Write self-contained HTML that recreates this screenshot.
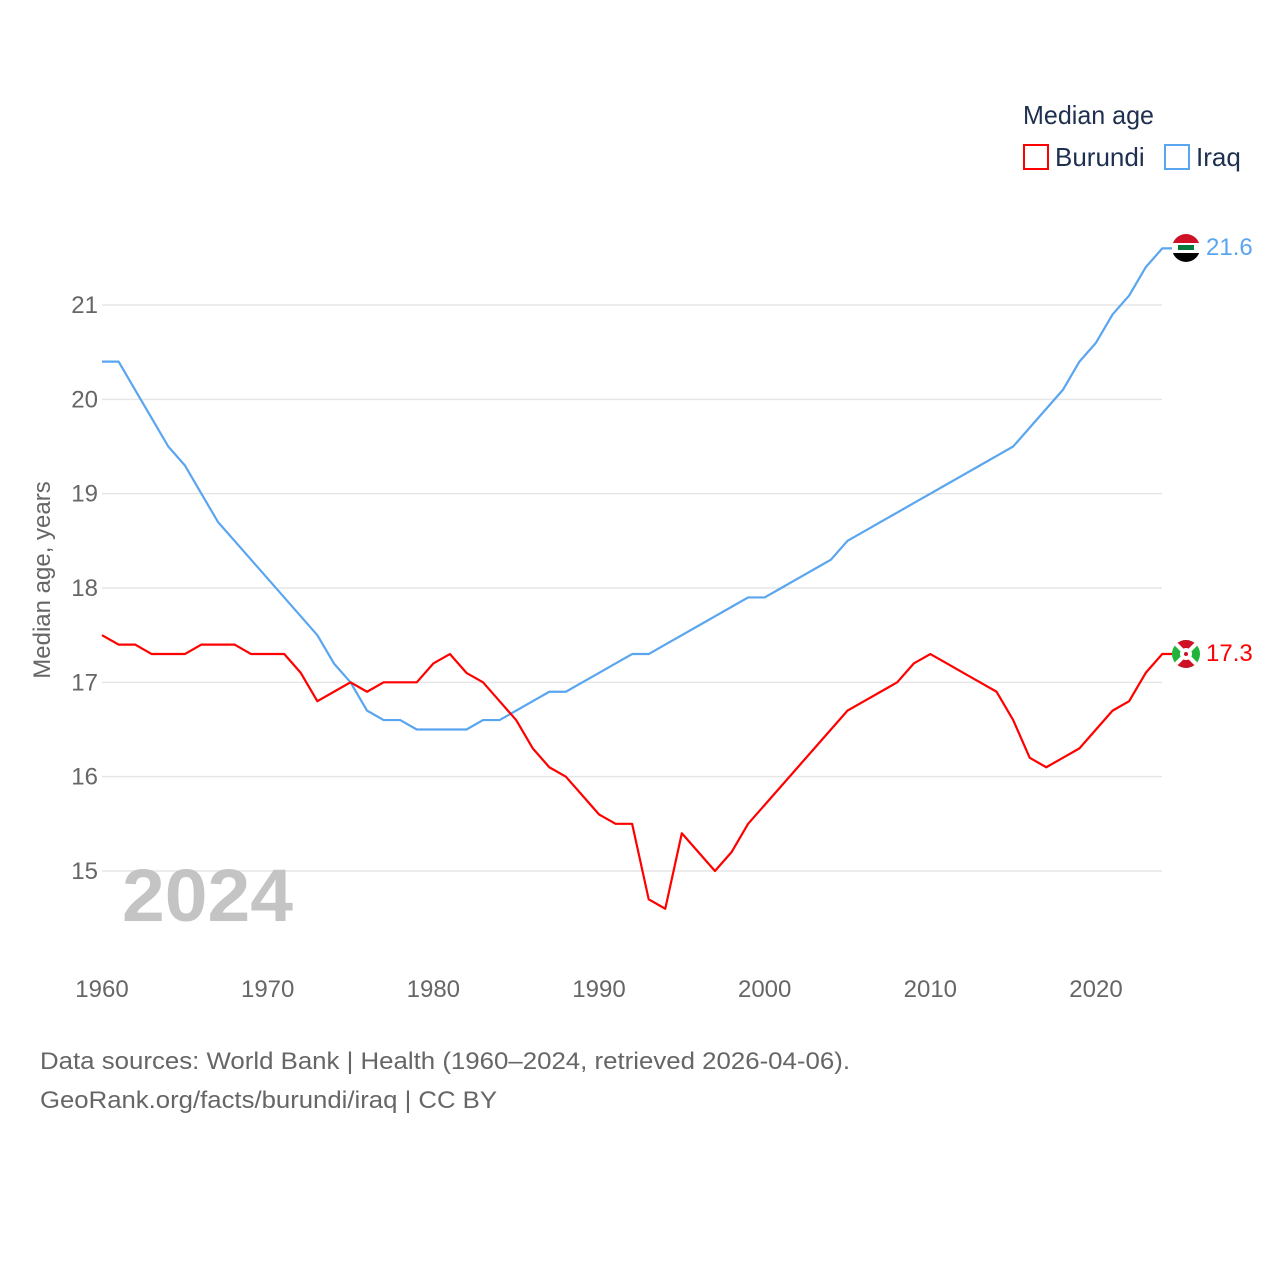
<!DOCTYPE html>
<html><head><meta charset="utf-8"><style>
body{margin:0;background:#fff;font-family:"Liberation Sans",sans-serif}
svg text{font-family:"Liberation Sans",sans-serif}
</style></head><body>
<svg id="chart" width="1280" height="1280" xmlns="http://www.w3.org/2000/svg">
<g id="grid"></g>
<g id="yticks"></g>
<g id="xticks"></g>
<text x="122" y="921" font-size="74" font-weight="bold" fill="#c4c4c4" textLength="171" lengthAdjust="spacingAndGlyphs">2024</text>
<text transform="translate(50,580) rotate(-90)" text-anchor="middle" font-size="24" fill="#666">Median age, years</text>
<g id="series"></g>
<text x="1023" y="124" font-size="26" fill="#1e2f4f" textLength="131" lengthAdjust="spacingAndGlyphs">Median age</text>
<rect x="1024" y="145" width="24" height="24" fill="none" stroke="#f00" stroke-width="2"/>
<text x="1055" y="166" font-size="26" fill="#1e2f4f">Burundi</text>
<rect x="1165" y="145" width="24" height="24" fill="none" stroke="#5aa5ef" stroke-width="2"/>
<text x="1196" y="166" font-size="26" fill="#1e2f4f">Iraq</text>
<g>
<clipPath id="ci"><circle cx="1186" cy="248" r="14"/></clipPath>
<g clip-path="url(#ci)"><rect x="1170" y="233" width="32" height="10" fill="#ce1126"/><rect x="1170" y="243" width="32" height="10" fill="#fff"/><rect x="1170" y="253" width="32" height="10" fill="#000"/><rect x="1178" y="245" width="16" height="5" fill="#007a3d"/></g></g>
<g>
<clipPath id="cb"><circle cx="1186" cy="654" r="14"/></clipPath>
<g clip-path="url(#cb)"><rect x="1170" y="638" width="32" height="32" fill="#1eb53a"/><polygon points="1172,640 1200,640 1186,654" fill="#ce1126"/><polygon points="1172,668 1200,668 1186,654" fill="#ce1126"/><line x1="1170" y1="638" x2="1202" y2="670" stroke="#fff" stroke-width="4"/><line x1="1202" y1="638" x2="1170" y2="670" stroke="#fff" stroke-width="4"/><circle cx="1186" cy="654" r="6" fill="#fff"/><circle cx="1186" cy="654" r="2" fill="#ce1126"/></g></g>
<text id="lblI" x="1206" y="255" font-size="24" fill="#5aa5ef">21.6</text>
<text id="lblB" x="1206" y="661" font-size="24" fill="#f00">17.3</text>
<text x="40" y="1069" font-size="24" fill="#666" textLength="810" lengthAdjust="spacingAndGlyphs">Data sources: World Bank | Health (1960–2024, retrieved 2026-04-06).</text>
<text x="40" y="1108" font-size="24" fill="#666" textLength="457" lengthAdjust="spacingAndGlyphs">GeoRank.org/facts/burundi/iraq | CC BY</text>
</svg>
<script>
const years=[];for(let y=1960;y<=2024;y++)years.push(y);
const iraq=[20.4,20.4,20.1,19.8,19.5,19.3,19.0,18.7,18.5,18.3,18.1,17.9,17.7,17.5,17.2,17.0,16.7,16.6,16.6,16.5,16.5,16.5,16.5,16.6,16.6,16.7,16.8,16.9,16.9,17.0,17.1,17.2,17.3,17.3,17.4,17.5,17.6,17.7,17.8,17.9,17.9,18.0,18.1,18.2,18.3,18.5,18.6,18.7,18.8,18.9,19.0,19.1,19.2,19.3,19.4,19.5,19.7,19.9,20.1,20.4,20.6,20.9,21.1,21.4,21.6];
const burundi=[17.5,17.4,17.4,17.3,17.3,17.3,17.4,17.4,17.4,17.3,17.3,17.3,17.1,16.8,16.9,17.0,16.9,17.0,17.0,17.0,17.2,17.3,17.1,17.0,16.8,16.6,16.3,16.1,16.0,15.8,15.6,15.5,15.5,14.7,14.6,15.4,15.2,15.0,15.2,15.5,15.7,15.9,16.1,16.3,16.5,16.7,16.8,16.9,17.0,17.2,17.3,17.2,17.1,17.0,16.9,16.6,16.2,16.1,16.2,16.3,16.5,16.7,16.8,17.1,17.3];
const yTicks=[15,16,17,18,19,20,21];
const xTicks=[1960,1970,1980,1990,2000,2010,2020];
const NS="http://www.w3.org/2000/svg";
const X=y=>102+(y-1960)*(1096-102)/60;
const Y=v=>871-(v-15)*(871-305)/6;
function el(t,a,p){const e=document.createElementNS(NS,t);for(const k in a)e.setAttribute(k,a[k]);p.appendChild(e);return e;}
const g=document.getElementById('grid'),yt=document.getElementById('yticks'),xt=document.getElementById('xticks'),s=document.getElementById('series');
yTicks.forEach(v=>{
 const l=el('line',{x1:102,x2:1162,y1:Y(v),y2:Y(v),stroke:'#e6e6e6','stroke-width':1.5},g);
 
 
 const t=el('text',{x:98,y:Y(v)+8,'text-anchor':'end','font-size':24,fill:'#666'},yt);t.textContent=v;
 
 
});
xTicks.forEach(v=>{
 const t=el('text',{x:X(v),y:997,'text-anchor':'middle','font-size':24,fill:'#666'},xt);t.textContent=v;
 
 
});
function line(d,c,n){
 const pts=d.map((v,i)=>X(years[i])+','+Y(v));
 pts.push((X(years[years.length-1])+10)+','+Y(d[d.length-1]));
 const p=el('polyline',{points:pts.join(' '),fill:'none',stroke:c,'stroke-width':2.2,'stroke-linejoin':'round'},s);
 
 
}
line(iraq,'#5aa5ef','iraq-line');
line(burundi,'#f00','burundi-line');
document.getElementById('lblI').textContent=iraq[iraq.length-1];
document.getElementById('lblB').textContent=burundi[burundi.length-1];
</script>
</body></html>
